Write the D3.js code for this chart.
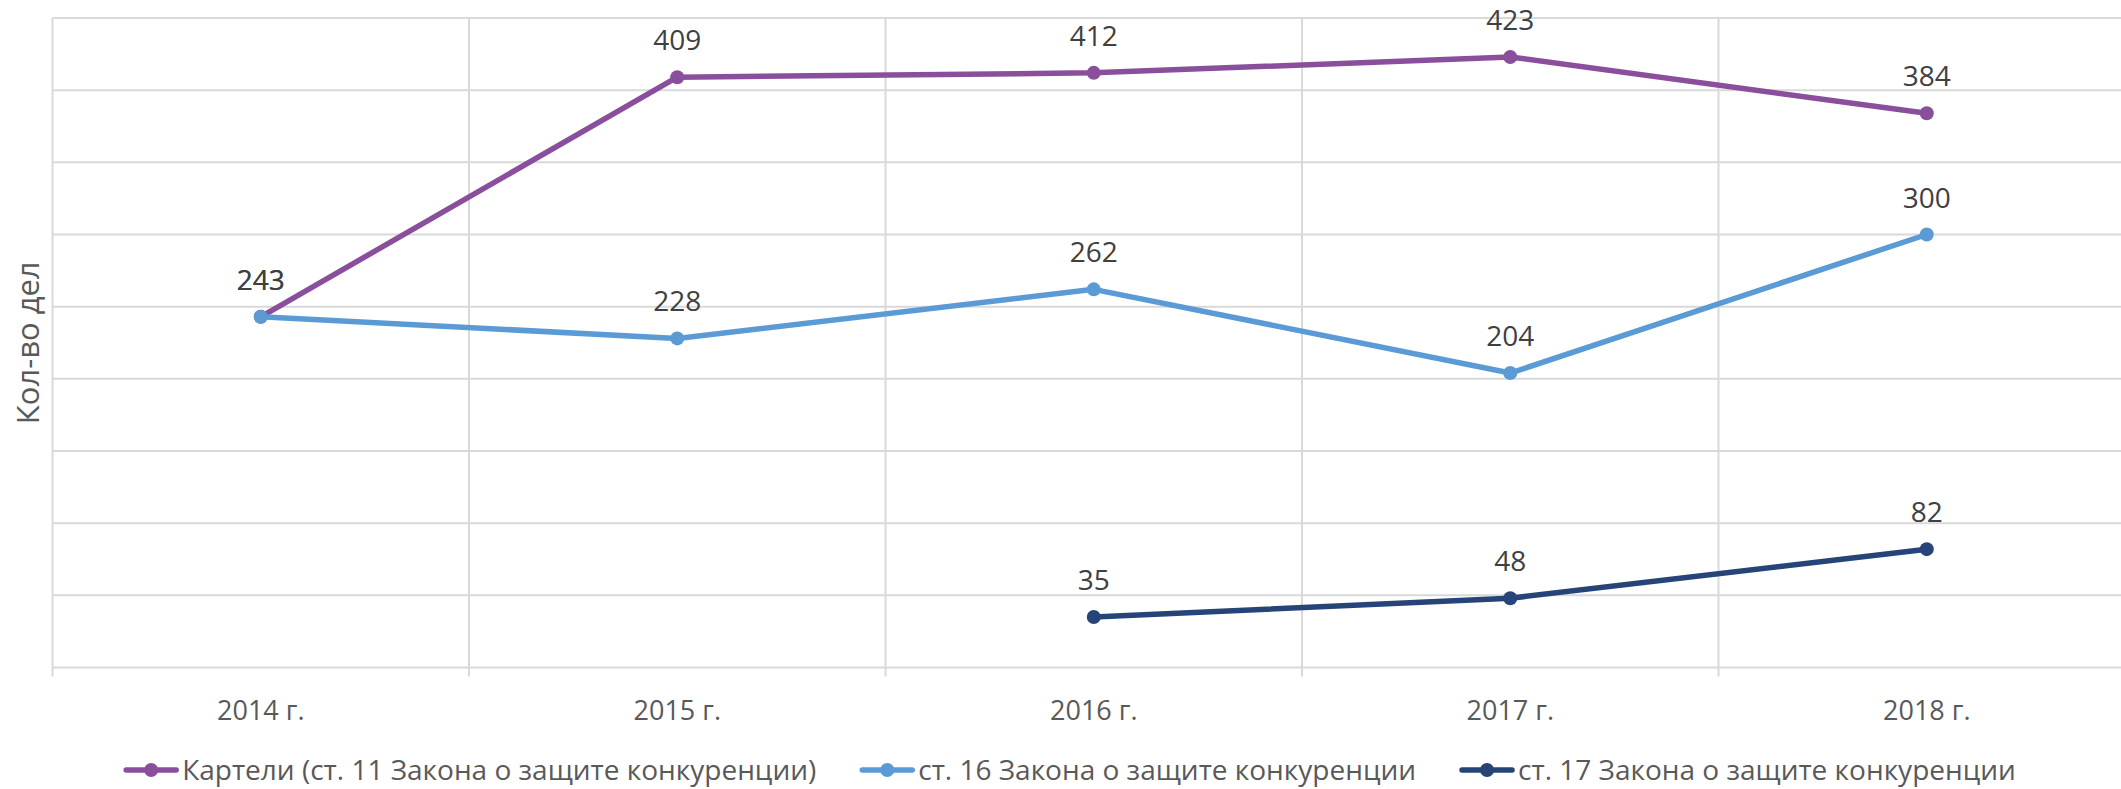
<!DOCTYPE html>
<html>
<head>
<meta charset="utf-8">
<script src="https://cdn.jsdelivr.net/npm/d3@7"></script>
<style>
  html, body { margin: 0; padding: 0; background: #fff; }
  svg { display: block; }
  text { font-family: "Open Sans", "Noto Sans", "DejaVu Sans", sans-serif; }
</style>
</head>
<body>
<svg id="chart" width="2121" height="789"></svg>
<script>
const categories = ["2014 г.", "2015 г.", "2016 г.", "2017 г.", "2018 г."];
const seriesNames = [
  "Картели (ст. 11 Закона о защите конкуренции)",
  "ст. 16 Закона о защите конкуренции",
  "ст. 17 Закона о защите конкуренции"
];
const cartels = [243, 409, 412, 423, 384];
const art16 = [243, 228, 262, 204, 300];
const art17 = [null, null, 35, 48, 82];
const colors = ["#8A4F9C", "#5B9BD5", "#264478"];
const yTitle = "Кол-во дел";
const yMax = 450;
const yStep = 50;

const series = [cartels, art16, art17].map((vals, i) => ({
  name: seriesNames[i], color: colors[i], values: vals
}));

const W = 2121, H = 789;
const svg = d3.select("#chart");
const plot = { left: 52.5, right: 2135, top: 18, bottom: 667.5 };

const x = d3.scaleBand().domain(categories).range([plot.left, plot.right]).padding(0);
const y = d3.scaleLinear().domain([0, yMax]).range([plot.bottom, plot.top]);

const grid = svg.append("g");
grid.selectAll("line.h").data(d3.range(0, yMax + 1, yStep)).enter().append("line")
  .attr("x1", plot.left).attr("x2", W)
  .attr("y1", d => y(d)).attr("y2", d => y(d))
  .attr("stroke", "#D9D9D9").attr("stroke-width", 2);
const bounds = categories.map(c => x(c)).concat([x(categories[categories.length - 1]) + x.bandwidth()]);
grid.selectAll("line.v").data(bounds).enter().append("line")
  .attr("x1", d => d).attr("x2", d => d)
  .attr("y1", plot.top).attr("y2", plot.bottom + 9)
  .attr("stroke", "#D9D9D9").attr("stroke-width", 2);

const xAxis = d3.axisBottom(x).tickSize(0).tickPadding(0);
const xg = svg.append("g").attr("transform", `translate(0,${plot.bottom})`).call(xAxis);
xg.select(".domain").remove();
xg.selectAll("text")
  .attr("dy", null).attr("y", 52)
  .attr("font-size", 27).attr("fill", "#595959")
  .attr("font-family", '"Open Sans", sans-serif');

svg.append("text")
  .attr("transform", `translate(39,${(plot.top + plot.bottom) / 2}) rotate(-90)`)
  .attr("text-anchor", "middle")
  .attr("font-size", 31).attr("fill", "#595959")
  .text(yTitle);

const cx = i => x(categories[i]) + x.bandwidth() / 2;
const line = d3.line()
  .defined(d => d.v !== null)
  .x(d => cx(d.i)).y(d => y(d.v));

series.forEach(s => {
  const pts = s.values.map((v, i) => ({ v, i }));
  const g = svg.append("g");
  g.append("path").datum(pts)
    .attr("d", line).attr("fill", "none")
    .attr("stroke", s.color).attr("stroke-width", 5.5)
    .attr("stroke-linejoin", "round").attr("stroke-linecap", "round");
  const valid = pts.filter(d => d.v !== null);
  g.selectAll("circle").data(valid).enter().append("circle")
    .attr("cx", d => cx(d.i)).attr("cy", d => y(d.v)).attr("r", 7)
    .attr("fill", s.color);
});

series.forEach(s => {
  const valid = s.values.map((v, i) => ({ v, i })).filter(d => d.v !== null);
  svg.append("g").selectAll("text").data(valid).enter().append("text")
    .attr("x", d => cx(d.i)).attr("y", d => y(d.v) - 27)
    .attr("text-anchor", "middle")
    .attr("font-size", 28).attr("fill", "#404040")
    .text(d => d.v);
});

const legend = svg.append("g");
const items = series.map(s => {
  const g = legend.append("g");
  g.append("line").attr("x1", 0).attr("x2", 50).attr("y1", 0).attr("y2", 0)
    .attr("stroke", s.color).attr("stroke-width", 5.5).attr("stroke-linecap", "round");
  g.append("circle").attr("cx", 25).attr("cy", 0).attr("r", 7).attr("fill", s.color);
  const t = g.append("text").attr("x", 56).attr("y", 10)
    .attr("font-size", 28).attr("fill", "#595959").text(s.name);
  return { g, w: 56 + t.node().getComputedTextLength() };
});
const gap = 46;
const total = d3.sum(items, d => d.w) + gap * (items.length - 1);
let lx = 1071 - total / 2;
items.forEach(it => {
  it.g.attr("transform", `translate(${lx},770)`);
  lx += it.w + gap;
});
</script>
</body>
</html>
